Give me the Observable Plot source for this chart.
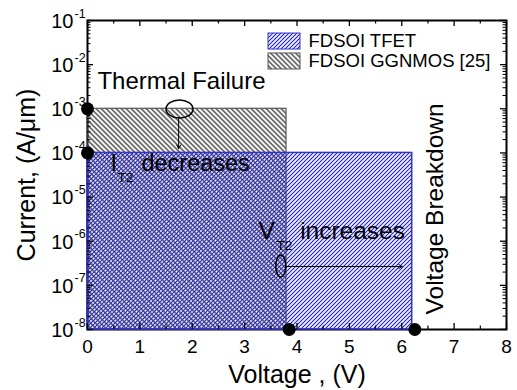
<!DOCTYPE html>
<html><head><meta charset="utf-8">
<script src="https://cdn.jsdelivr.net/npm/d3@7"></script>
<script src="https://cdn.jsdelivr.net/npm/@observablehq/plot@0.6"></script>
<style>
body{margin:0;background:#fff}
svg{font-family:"Liberation Sans",Arial,sans-serif}
</style>
</head><body><div id="c"></div>
<script>
// ---- data ----
const devices = ["FDSOI GGNMOS [25]", "FDSOI TFET"];
const vMin = [0, 0];
const vMax = [3.8, 6.2];
const iMin = [1e-8, 1e-8];
const iMax = [1e-3, 1e-4];
const keyV = [0, 0, 3.85, 6.25];
const keyI = [1e-3, 1e-4, 1e-8, 1e-8];
const xTicks = [0, 1, 2, 3, 4, 5, 6, 7, 8];
const xMinor = [0.5, 1.5, 2.5, 3.5, 4.5, 5.5, 6.5, 7.5];
const yExps = [-8, -7, -6, -5, -4, -3, -2, -1];
const yMinorMult = [2, 3, 4, 5, 6, 7, 8, 9];
// annotations (data units)
const thermalText = "Thermal Failure", thermalV = 0.19, thermalI = 4.26e-3;
const decText = ["I", "decreases"], decV = [0.44, 1.03], decI = [5.75e-5, 5.75e-5];
const incText = ["V", "increases"], incV = [3.265, 4.06], incI = [1.7e-6, 1.7e-6];
const subText = ["T2", "T2"];
const subV = [0.573, 3.61];
const subI = [2.77e-5, 8.0e-7];
const breakdownText = "Voltage Breakdown";
const breakdownV = 6.63, breakdownI = 5.4e-6;
const ellV = [1.766, 3.70];
const ellI = [9.6e-4, 2.67e-7];
const arrV1 = [1.74, 3.80], arrV2 = [1.74, 6.01];
const arrI1 = [6.0e-4, 2.67e-7], arrI2 = [1.26e-4, 2.67e-7];
// legend
const legText = ["FDSOI TFET", "FDSOI GGNMOS [25]"];
const legV1 = 3.456, legV2 = 4.067, legTextV = 4.22;
const legI1 = [5.07e-2, 1.79e-2], legI2 = [2.2e-2, 7.77e-3], legTextI = [3.34e-2, 1.18e-2];

// ---- build ----
const rects = devices.map((d, k) => ({d, v0: vMin[k], v1: vMax[k], i0: iMin[k], i1: iMax[k]}));
const keys = keyV.map((v, k) => ({v, i: keyI[k]}));
const dec = decText.map((t, k) => ({t, v: decV[k], i: decI[k]}));
const inc = incText.map((t, k) => ({t, v: incV[k], i: incI[k]}));
const subs = subText.map((t, k) => ({t, v: subV[k], i: subI[k]}));
const arrows = arrV1.map((v, k) => ({v1: v, v2: arrV2[k], i1: arrI1[k], i2: arrI2[k]}));
const yMinor = [];
for (const e of yExps.slice(0, -1)) for (const m of yMinorMult) yMinor.push(m * 10 ** e);
const leg = legText.map((t, k) => ({t, i1: legI1[k], i2: legI2[k], it: legTextI[k], fill: k === 0 ? "url(#hb)" : "url(#hk)", stroke: k === 0 ? "#3333cc" : "#555"}));

const H = 390, MT = 20, MB = 61, ML = 87, MR = 11;
const FH = H - MT - MB, FW = 517 - ML - MR;
const BLUE = "#3333cc";

const chart = Plot.plot({
  width: 517, height: H,
  marginLeft: ML, marginRight: MR, marginTop: MT, marginBottom: MB,
  style: {fontFamily: '"Liberation Sans", Arial, sans-serif', background: "#fff"},
  x: {domain: [0, 8], axis: null},
  y: {type: "log", domain: [1e-8, 1e-1], axis: null},
  marks: [
    Plot.frame({stroke: "black", strokeWidth: 2}),
    Plot.rect(rects.filter(r => r.d === devices[0]), {x1: "v0", x2: "v1", y1: "i0", y2: "i1", fill: "url(#hk)", stroke: "#555", strokeWidth: 1.2}),
    Plot.rect(rects.filter(r => r.d === devices[1]), {x1: "v0", x2: "v1", y1: "i0", y2: "i1", fill: "url(#hb)", stroke: BLUE, strokeWidth: 1.5}),
    // legend
    Plot.rect(leg, {x1: () => legV1, x2: () => legV2, y1: "i1", y2: "i2", fill: d => d.fill, stroke: d => d.stroke, strokeWidth: 1}),
    Plot.text(leg, {x: () => legTextV, y: "it", text: "t", textAnchor: "start", fontSize: 18.5}),
    // ticks (inward)
    Plot.tickX(xTicks, {x: d => d, insetTop: FH - 6, strokeWidth: 1.3}),
    Plot.tickX(xTicks, {x: d => d, insetBottom: FH - 6, strokeWidth: 1.3}),
    Plot.tickX(xMinor, {x: d => d, insetTop: FH - 3.5, strokeWidth: 1.2}),
    Plot.tickX(xMinor, {x: d => d, insetBottom: FH - 3.5, strokeWidth: 1.2}),
    Plot.tickY(yExps, {y: d => 10 ** d, insetRight: FW - 6, strokeWidth: 1.3}),
    Plot.tickY(yExps, {y: d => 10 ** d, insetLeft: FW - 6, strokeWidth: 1.3}),
    Plot.tickY(yMinor, {y: d => d, insetRight: FW - 3.5, strokeWidth: 1}),
    Plot.tickY(yMinor, {y: d => d, insetLeft: FW - 3.5, strokeWidth: 1}),
    // tick labels
    Plot.text(xTicks, {x: d => d, frameAnchor: "bottom", lineAnchor: "middle", textAnchor: "middle", dy: 17, text: d => String(d), fontSize: 19}),
    Plot.text(yExps, {frameAnchor: "left", y: d => 10 ** d, text: () => "10", textAnchor: "end", lineAnchor: "middle", dx: -14, dy: 1, fontSize: 20}),
    Plot.text(yExps, {frameAnchor: "left", y: d => 10 ** d, text: d => String(d), textAnchor: "start", lineAnchor: "middle", dx: -13, dy: -7, fontSize: 12.5}),
    // axis labels
    Plot.text(["Voltage , (V)"], {frameAnchor: "bottom", lineAnchor: "middle", textAnchor: "middle", dy: 45, text: d => d, fontSize: 25}),
    Plot.text(["Current, (A/\u03bcm)"], {frameAnchor: "left", lineAnchor: "middle", textAnchor: "middle", rotate: -90, dx: -61, text: d => d, fontSize: 25}),
    // annotations
    Plot.text([thermalText], {x: () => thermalV, y: () => thermalI, text: d => d, textAnchor: "start", fontSize: 24}),
    Plot.text(dec, {x: "v", y: "i", text: "t", textAnchor: "start", fontSize: 23.5}),
    Plot.text(inc, {x: "v", y: "i", text: "t", textAnchor: "start", fontSize: 24.5}),
    Plot.text(subs, {x: "v", y: "i", text: "t", textAnchor: "start", fontSize: 13.5}),
    Plot.text([breakdownText], {x: () => breakdownV, y: () => breakdownI, text: d => d, textAnchor: "middle", rotate: -90, fontSize: 24.5}),
    Plot.arrow(arrows, {x1: "v1", y1: "i1", x2: "v2", y2: "i2", stroke: "black", strokeWidth: 1, headLength: 6}),
    // key points
    Plot.dot(keys, {x: "v", y: "i", r: 6.5, fill: "black"})
  ]
});

const svg = d3.select(chart);
const wb = 4 / Math.SQRT2, wk = 5 / Math.SQRT2;
svg.insert("defs", ":first-child").html(`
  <pattern id="hb" patternUnits="userSpaceOnUse" width="${wb}" height="${wb}" patternTransform="rotate(45)">
    <rect x="${wb / 2 - 0.55}" y="0" width="1.1" height="${wb}" fill="#2a2ac8"/>
  </pattern>
  <pattern id="hk" patternUnits="userSpaceOnUse" width="${wk}" height="${wk}" patternTransform="rotate(-45)">
    <rect x="${wk / 2 - 0.55}" y="0" width="1.1" height="${wk}" fill="#1a1a1a"/>
  </pattern>`);
const sx = chart.scale("x"), sy = chart.scale("y");
const ellR = [[13.5, 9], [5, 11]];
ellV.forEach((v, k) => {
  svg.append("ellipse")
    .attr("cx", sx.apply(v)).attr("cy", sy.apply(ellI[k]))
    .attr("rx", ellR[k][0]).attr("ry", ellR[k][1])
    .attr("fill", "none").attr("stroke", "black").attr("stroke-width", 1.5);
});
document.getElementById("c").appendChild(chart);
</script>
</body></html>
